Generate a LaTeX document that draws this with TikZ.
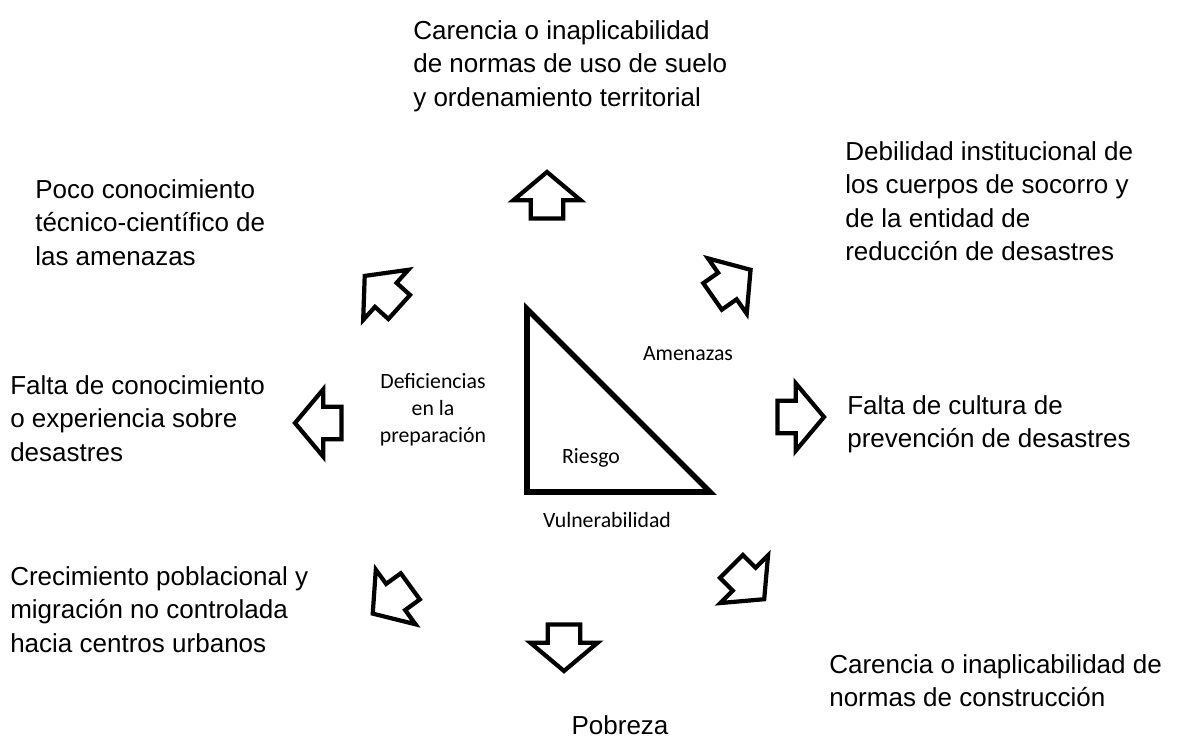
\documentclass[tikz,border=0pt]{standalone}
\usepackage{fontspec}
\setmainfont{Liberation Sans}
\newfontfamily\calfont{Carlito}
\usetikzlibrary{shapes.arrows}
\tikzset{
  blockarrow/.style={single arrow, draw, line width=3pt, minimum height=33pt,
    inner sep=10pt, single arrow head extend=12.5pt, single arrow tip angle=100,
    single arrow head indent=0pt},
  outerlbl/.style={anchor=north west, align=left, inner sep=0pt,
    font=\fontsize{18.5}{23.8}\selectfont},
  innerlbl/.style={align=center, inner sep=0pt,
    font=\calfont\fontsize{15.5}{19.2}\selectfont}
}

\begin{document}
\begin{tikzpicture}[x=0.025cm, y=-0.025cm]
        \useasboundingbox (0,0) rectangle (1177,748);

        \draw[line width=4pt, line join=miter] (527,309)--(527,492)--(710,492)--cycle;
        \node[innerlbl] (riesgo) at (591,458) {Riesgo};
        \node[innerlbl] (vuln) at (607,520) {Vulnerabilidad};
        \node[innerlbl] (amen) at (688,354) {Amenazas};
        \node[innerlbl] (defic) at (433,410) {Deficiencias\\en la\\preparación};

        \node[blockarrow, rotate=90] (arrN) at (547,202) {};
        \node[blockarrow, rotate=138] (arrNW) at (387,296) {};
        \node[blockarrow, rotate=35] (arrNE) at (726,287) {};
        \node[blockarrow, rotate=180] (arrW) at (325,423) {};
        \node[blockarrow] (arrE) at (794,417) {};
        \node[blockarrow, rotate=216] (arrSW) at (397,596) {};
        \node[blockarrow, rotate=-45] (arrSE) at (743,578) {};
        \node[blockarrow, rotate=270] (arrS) at (564,641) {};

        \node[outerlbl] (lblN) at (413,20) {Carencia o inaplicabilidad\\de normas de uso de suelo\\y ordenamiento territorial};
        \node[outerlbl] (lblNE) at (845,141) {Debilidad institucional de\\los cuerpos de socorro y\\de la entidad de\\reducción de desastres};
        \node[outerlbl] (lblNW) at (35,179) {Poco conocimiento\\técnico-científico de\\las amenazas};
        \node[outerlbl] (lblW) at (10,375) {Falta de conocimiento\\o experiencia sobre\\desastres};
        \node[outerlbl] (lblE) at (847,395) {Falta de cultura de\\prevención de desastres};
        \node[outerlbl] (lblSW) at (10,566) {Crecimiento poblacional y\\migración no controlada\\hacia centros urbanos};
        \node[outerlbl] (lblSE) at (829,654) {Carencia o inaplicabilidad de\\normas de construcción};
        \node[outerlbl, anchor=north] (lblS) at (620,715) {Pobreza};
\end{tikzpicture}
\end{document}
